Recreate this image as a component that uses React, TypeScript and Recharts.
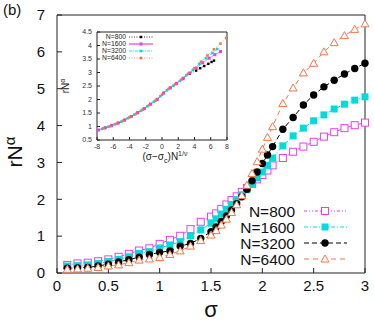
import React from "react";
import { Label, Legend, Line, LineChart, XAxis, YAxis } from "recharts";

// main panel: rN^alpha against sigma
const sigma = [
  0.1, 0.2, 0.3, 0.4, 0.5, 0.6, 0.7, 0.8, 0.9, 1.0, 1.1, 1.2, 1.3, 1.4, 1.5, 1.55, 1.6, 1.65,
  1.7, 1.75, 1.8, 1.85, 1.9, 1.95, 2.0, 2.05, 2.1, 2.2, 2.3, 2.4, 2.5, 2.6, 2.7, 2.8, 2.9, 3.0,
];
const rN800 = [
  0.22, 0.26, 0.28, 0.32, 0.37, 0.44, 0.52, 0.61, 0.67, 0.79, 0.9, 1.01, 1.19, 1.39, 1.53, 1.62, 1.74, 1.86,
  1.98, 2.08, 2.2, 2.31, 2.42, 2.54, 2.66, 2.78, 2.92, 3.12, 3.29, 3.43, 3.56, 3.7, 3.82, 3.93, 4.01, 4.08,
];
const rN1600 = [
  0.19, 0.2, 0.22, 0.26, 0.31, 0.37, 0.44, 0.53, 0.58, 0.68, 0.76, 0.85, 1.01, 1.17, 1.35, 1.47, 1.6, 1.73,
  1.86, 1.99, 2.12, 2.26, 2.42, 2.58, 2.74, 2.92, 3.12, 3.45, 3.72, 3.93, 4.13, 4.29, 4.45, 4.58, 4.69, 4.78,
];
const rN3200 = [
  0.13, 0.14, 0.15, 0.19, 0.24, 0.3, 0.36, 0.43, 0.5, 0.56, 0.6, 0.73, 0.8, 0.94, 1.12, 1.25, 1.4, 1.55,
  1.71, 1.88, 2.07, 2.27, 2.5, 2.74, 2.97, 3.2, 3.43, 3.9, 4.22, 4.56, 4.83, 5.05, 5.23, 5.4, 5.55, 5.69,
];
const rN6400 = [
  0.1, 0.11, 0.13, 0.15, 0.19, 0.22, 0.28, 0.35, 0.38, 0.42, 0.5, 0.6, 0.73, 0.88, 1.03, 1.15, 1.3, 1.46,
  1.64, 1.85, 2.1, 2.38, 2.7, 3.02, 3.36, 3.68, 3.97, 4.6, 5.02, 5.43, 5.69, 6.0, 6.25, 6.44, 6.61, 6.76,
];
const xTicks = [0, 0.5, 1, 1.5, 2, 2.5, 3];
const yTicks = [0, 1, 2, 3, 4, 5, 6, 7];

// inset: scaling collapse
const insetX800 = [-7.0, -6.2, -5.4, -4.6, -3.8, -3.0, -2.2, -1.4, -0.6, 0.2, 1.0, 1.8, 2.6, 3.4, 4.2, 4.7, 5.2, 5.7, 6.1, 6.4];
const insetY800 = [0.95, 1.03, 1.13, 1.24, 1.37, 1.51, 1.66, 1.83, 2.01, 2.24, 2.43, 2.6, 2.78, 2.95, 3.07, 3.16, 3.24, 3.32, 3.39, 3.44];
const insetX1600 = [-7.8, -7.0, -6.2, -5.4, -4.6, -3.8, -3.0, -2.2, -1.4, -0.6, 0.2, 1.0, 1.8, 2.6, 3.4, 4.2, 5.0, 5.8, 6.5, 7.2];
const insetY1600 = [0.87, 0.95, 1.03, 1.13, 1.24, 1.37, 1.51, 1.66, 1.83, 2.01, 2.24, 2.43, 2.6, 2.79, 2.98, 3.16, 3.36, 3.53, 3.66, 3.78];
const insetX3200 = [-7.4, -6.6, -5.8, -5.0, -4.2, -3.4, -2.6, -1.8, -1.0, -0.2, 0.6, 1.4, 2.2, 3.0, 3.8, 4.6, 5.4, 6.2, 6.8];
const insetY3200 = [0.91, 0.99, 1.08, 1.18, 1.31, 1.44, 1.58, 1.75, 1.92, 2.12, 2.34, 2.51, 2.69, 2.9, 3.1, 3.32, 3.53, 3.72, 3.87];
const insetX6400 = [-7.2, -6.4, -5.6, -4.8, -4.0, -3.2, -2.4, -1.6, -0.8, 0, 0.8, 1.6, 2.4, 3.2, 4.0, 4.8, 5.6, 6.4, 7.2, 7.9];
const insetY6400 = [0.93, 1.01, 1.1, 1.21, 1.34, 1.47, 1.62, 1.79, 1.96, 2.18, 2.39, 2.56, 2.74, 2.95, 3.16, 3.4, 3.63, 3.86, 4.07, 4.28];
const insetXTicks = [-8, -6, -4, -2, 0, 2, 4, 6, 8];
const insetYTicks = [0.5, 1, 1.5, 2, 2.5, 3, 3.5, 4, 4.5];

const FONT = "'Liberation Sans', Arial, sans-serif";
const MAGENTA = "#e83fe8";
const CYAN = "#00dcdc";
const ORANGE = "#f57548";
const BLACK = "#000000";
const AXIS = "#222";

const mainRows = sigma.map((s, i) => ({
  sigma: s,
  n800: rN800[i],
  n1600: rN1600[i],
  n3200: rN3200[i],
  n6400: rN6400[i],
}));

const zip = (xs: number[], ys: number[]) => xs.map((x, i) => ({ x, y: ys[i] }));

const mainSeries = [
  { key: "n800", name: "N=800", color: MAGENTA, mark: "openSquare", size: 7, dash: "3 2 1 2 1 2" },
  { key: "n1600", name: "N=1600", color: CYAN, mark: "square", size: 7, dash: "4 2 1 2" },
  { key: "n3200", name: "N=3200", color: BLACK, mark: "circle", size: 7.4, dash: "5 3" },
  { key: "n6400", name: "N=6400", color: ORANGE, mark: "triangle", size: 8, dash: "5 4" },
];

const insetSeries = [
  { name: "N=800", color: BLACK, mark: "square", size: 2.4, dash: "1 1.5", data: zip(insetX800, insetY800) },
  { name: "N=1600", color: MAGENTA, mark: "square", size: 3, dash: "", data: zip(insetX1600, insetY1600) },
  { name: "N=3200", color: CYAN, mark: "square", size: 2.6, dash: "3 1 1 1", data: zip(insetX3200, insetY3200) },
  { name: "N=6400", color: ORANGE, mark: "square", size: 2.6, dash: "1 1.5", data: zip(insetX6400, insetY6400) },
];

function shape(kind: string, color: string, size: number, cx: number, cy: number, key: string) {
  const h = size / 2;
  if (kind === "openSquare")
    return <rect key={key} x={cx - h} y={cy - h} width={size} height={size} fill="#fff" stroke={color} strokeWidth={1} />;
  if (kind === "square")
    return <rect key={key} x={cx - h} y={cy - h} width={size} height={size} fill={color} />;
  if (kind === "circle") return <circle key={key} cx={cx} cy={cy} r={h} fill={color} />;
  const pts = `${cx},${cy - h} ${cx + h},${cy + h * 0.75} ${cx - h},${cy + h * 0.75}`;
  return <polygon key={key} points={pts} fill="#fff" stroke={color} strokeWidth={1} />;
}

const markDot = (kind: string, color: string, size: number, id: string) => (p: any) => {
  const key = `${id}-${p.index}`;
  if (p.cx == null || p.cy == null) return <g key={key} />;
  return shape(kind, color, size, p.cx, p.cy, key);
};

const MainLegend = () => (
  <svg width={130} height={70} style={{ display: "block" }}>
    {mainSeries.map((s, i) => {
      const cy = 11 + i * 16;
      return (
        <g key={s.key}>
          <text x={57} y={cy + 5.5} textAnchor="end" fontSize={15.5} fontFamily={FONT} fill="#111">
            {s.name}
          </text>
          <line x1={66} x2={109} y1={cy} y2={cy} stroke={s.color} strokeWidth={1} strokeDasharray={s.dash} />
          {shape(s.mark, s.color, s.size, 87, cy, "lg" + i)}
        </g>
      );
    })}
  </svg>
);

const InsetLegend = () => (
  <svg width={100} height={32} style={{ display: "block" }}>
    {insetSeries.map((s, i) => {
      const cy = 4 + i * 7;
      return (
        <g key={s.name}>
          <text x={61} y={cy + 2.4} textAnchor="end" fontSize={6.8} fontFamily={FONT} fill="#222">
            {s.name}
          </text>
          <line x1={64} x2={88} y1={cy} y2={cy} stroke={s.color} strokeWidth={s.dash ? 0.8 : 1.2} strokeDasharray={s.dash} />
          {shape(s.mark, s.color, s.size, 76, cy, "il" + i)}
        </g>
      );
    })}
  </svg>
);

const MainYTitle = (props: any) => {
  const vb = props.viewBox;
  const cx = vb.x + 22;
  const cy = vb.y + vb.height / 2 + 8;
  return (
    <text x={cx} y={cy} transform={`rotate(-90 ${cx} ${cy})`} textAnchor="middle" fontSize={21} fontFamily={FONT} fill="#111">
      rN<tspan dy={-7} fontSize={15}>α</tspan>
    </text>
  );
};

const MainXTitle = (props: any) => {
  const vb = props.viewBox;
  return (
    <text x={vb.x + vb.width / 2} y={vb.y + 44} textAnchor="middle" fontSize={22} fontFamily={FONT} fill="#111">
      σ
    </text>
  );
};

const InsetYTitle = (props: any) => {
  const vb = props.viewBox;
  const cx = vb.x + 14;
  const cy = vb.y + vb.height / 2;
  return (
    <text x={cx} y={cy} transform={`rotate(-90 ${cx} ${cy})`} textAnchor="middle" fontSize={10} fontFamily={FONT} fill="#222">
      rN<tspan dy={-4} fontSize={7}>α</tspan>
    </text>
  );
};

const InsetXTitle = (props: any) => {
  const vb = props.viewBox;
  return (
    <text x={vb.x + vb.width / 2 + 3} y={vb.y + 20} textAnchor="middle" fontSize={10} fontFamily={FONT} fill="#222">
      (σ−σ<tspan dy={3} fontSize={7}>c</tspan>
      <tspan dy={-3}>)N</tspan>
      <tspan dy={-4} fontSize={7}>1/ν</tspan>
    </text>
  );
};

const mainTick = { fill: "#111", fontSize: 15, fontFamily: FONT };
const insetTick = { fill: "#333", fontSize: 7, fontFamily: FONT };

export default function App() {
  return (
    <div style={{ position: "absolute", left: 0, top: 0, width: 374, height: 321, background: "#fff" }}>
      <LineChart width={374} height={321} data={mainRows} margin={{ top: 14, right: 8, bottom: 0, left: 0 }}>
        <XAxis
          xAxisId="b"
          type="number"
          dataKey="sigma"
          domain={[0, 3]}
          ticks={xTicks}
          height={48}
          tickSize={-5}
          tickMargin={12}
          stroke={AXIS}
          tick={mainTick}
        >
          <Label content={MainXTitle} />
        </XAxis>
        <XAxis xAxisId="t" orientation="top" type="number" dataKey="sigma" domain={[0, 3]} ticks={xTicks} height={1} tickSize={-5} tick={false} stroke={AXIS} />
        <YAxis yAxisId="l" type="number" domain={[0, 7]} ticks={yTicks} width={57} tickSize={-5} tickMargin={17} stroke={AXIS} tick={mainTick}>
          <Label content={MainYTitle} />
        </YAxis>
        <YAxis yAxisId="r" orientation="right" type="number" domain={[0, 7]} ticks={yTicks} width={1} tickSize={-5} tick={false} stroke={AXIS} />
        {mainSeries.map((s) => (
          <Line
            key={s.key}
            xAxisId="b"
            yAxisId="l"
            type="linear"
            dataKey={s.key}
            name={s.name}
            stroke={s.color}
            strokeWidth={1}
            strokeDasharray={s.dash}
            dot={markDot(s.mark, s.color, s.size, s.key)}
            activeDot={false}
            isAnimationActive={false}
          />
        ))}
        <Legend
          layout="vertical"
          align="center"
          verticalAlign="middle"
          content={MainLegend}
          wrapperStyle={{ position: "absolute", left: 238, top: 200, width: 130, height: 70 }}
        />
      </LineChart>

      <div style={{ position: "absolute", left: 55, top: 25 }}>
        <LineChart width={180} height={150} margin={{ top: 6, right: 7, bottom: 0, left: 0 }}>
          <XAxis
            xAxisId="b"
            type="number"
            dataKey="x"
            domain={[-8, 8]}
            ticks={insetXTicks}
            height={35}
            tickSize={-3}
            tickMargin={7}
            stroke={AXIS}
            tick={insetTick}
            allowDataOverflow
          >
            <Label content={InsetXTitle} />
          </XAxis>
          <XAxis xAxisId="t" orientation="top" type="number" dataKey="x" domain={[-8, 8]} ticks={insetXTicks} height={1} tickSize={-3} tick={false} stroke={AXIS} />
          <YAxis yAxisId="l" type="number" domain={[0.5, 4.5]} ticks={insetYTicks} width={42} tickSize={-3} tickMargin={8} stroke={AXIS} tick={insetTick}>
            <Label content={InsetYTitle} />
          </YAxis>
          <YAxis yAxisId="r" orientation="right" type="number" domain={[0.5, 4.5]} ticks={insetYTicks} width={1} tickSize={-3} tick={false} stroke={AXIS} />
          {insetSeries.map((s, i) => (
            <Line
              key={s.name}
              xAxisId="b"
              yAxisId="l"
              type="linear"
              data={s.data}
              dataKey="y"
              name={s.name}
              stroke={s.color}
              strokeWidth={0.6}
              strokeDasharray={s.dash}
              dot={markDot(s.mark, s.color, s.size, "in" + i)}
              activeDot={false}
              isAnimationActive={false}
            />
          ))}
          <Legend
            layout="vertical"
            align="center"
            verticalAlign="middle"
            content={InsetLegend}
            wrapperStyle={{ position: "absolute", left: 10, top: 8, width: 100, height: 32 }}
          />
        </LineChart>
      </div>

      <div style={{ position: "absolute", left: 3, top: 1, fontSize: 15, fontFamily: FONT, color: "#111" }}>(b)</div>
    </div>
  );
}
